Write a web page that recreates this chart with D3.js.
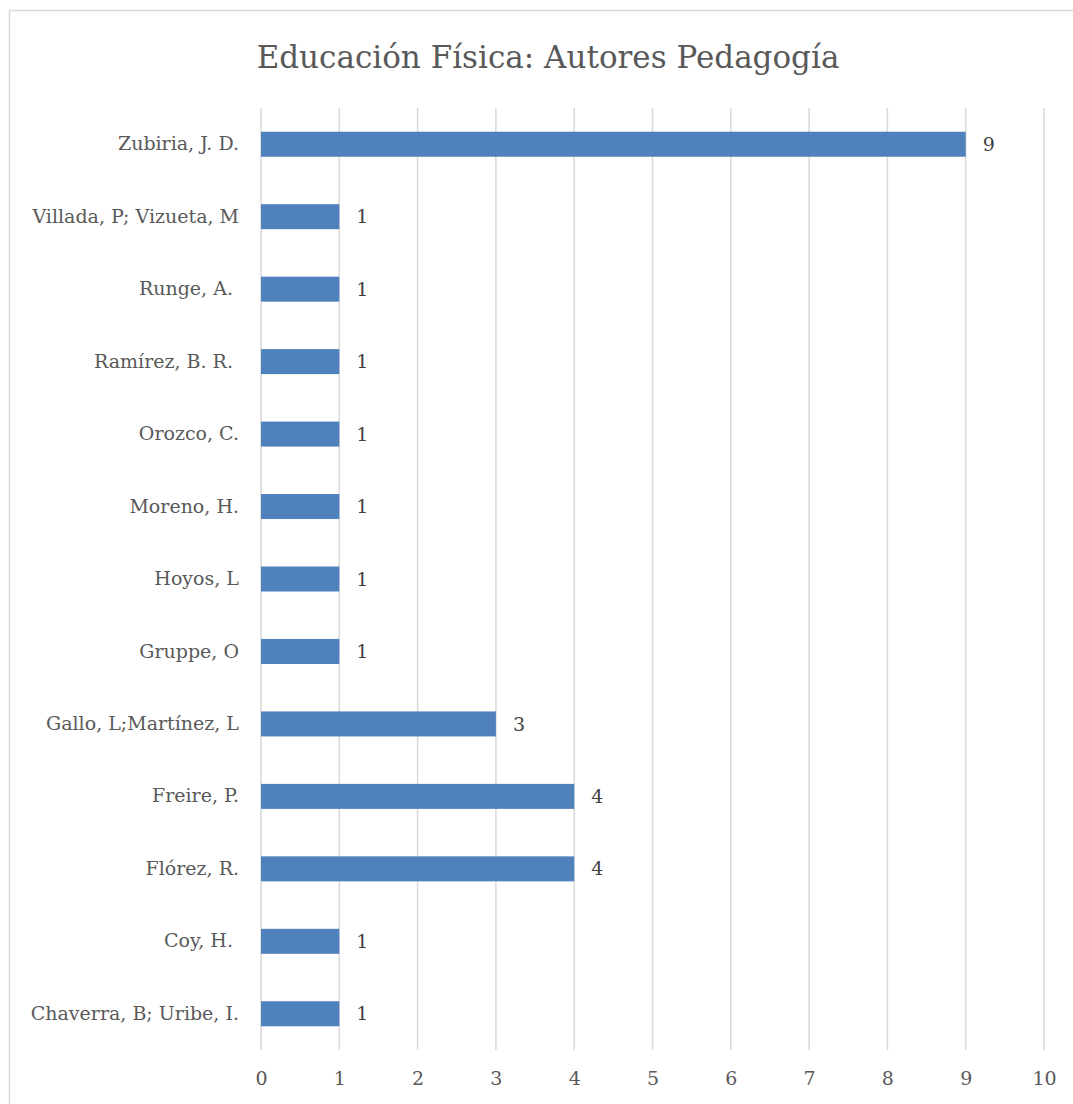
<!DOCTYPE html>
<html>
<head>
<meta charset="utf-8">
<script src="https://cdn.jsdelivr.net/npm/d3@7"></script>
<style>
  body { margin: 0; background: #fff; }
  text { font-family: "DejaVu Serif", serif; white-space: pre; }
</style>
</head>
<body>
<div id="chart"></div>
<script>
var width = 1073, height = 1104;

var authors = ['Zubiria, J. D.', 'Villada, P; Vizueta, M', 'Runge, A. ', 'Ramírez, B. R. ', 'Orozco, C.',
  'Moreno, H.', 'Hoyos, L', 'Gruppe, O', 'Gallo, L;Martínez, L', 'Freire, P.', 'Flórez, R.', 'Coy, H. ',
  'Chaverra, B; Uribe, I.'];
var counts = [9, 1, 1, 1, 1, 1, 1, 1, 3, 4, 4, 1, 1];
var xTicks = [0, 1, 2, 3, 4, 5, 6, 7, 8, 9, 10];
var title = 'Educación Física: Autores Pedagogía';

var svg = d3.select('#chart')
    .append('svg')
    .attr('width', width)
    .attr('height', height);

// chart frame (right and bottom edges are cut off in the original)
svg.append('rect')
    .attr('x', 9.5).attr('y', 10.5)
    .attr('width', 1100).attr('height', 1120)
    .attr('fill', '#fff')
    .attr('stroke', '#d9d9d9')
    .attr('stroke-width', 1.5);

var xScale = d3.scaleLinear().domain([0, 10]).range([261, 1044]);
var yScale = d3.scaleBand().domain(authors).range([108, 1050]).paddingInner(0.655).paddingOuter(0.3275);

svg.append('text')
    .attr('x', 548).attr('y', 68)
    .attr('text-anchor', 'middle')
    .attr('font-size', 31)
    .attr('fill', '#595959')
    .text(title);

// vertical gridlines
svg.selectAll('.grid')
    .data(xTicks)
    .enter()
    .append('line')
    .attr('class', 'grid')
    .attr('x1', function(d){ return xScale(d); })
    .attr('x2', function(d){ return xScale(d); })
    .attr('y1', 108).attr('y2', 1050)
    .attr('stroke', '#d9d9d9')
    .attr('stroke-width', 1.5);

var xAxis = svg.append('g')
    .attr('transform', 'translate(0,1050)')
    .call(d3.axisBottom(xScale).tickValues(xTicks).tickSize(0).tickPadding(22));
xAxis.select('.domain').remove();
xAxis.selectAll('text').attr('font-size', 19).attr('fill', '#595959')
    .style('font-family', '"DejaVu Serif", serif');

var yAxis = svg.append('g')
    .attr('transform', 'translate(239,0)')
    .call(d3.axisLeft(yScale).tickSize(0).tickPadding(0));
yAxis.select('.domain').remove();
yAxis.selectAll('text').attr('font-size', 19).attr('fill', '#595959')
    .style('font-family', '"DejaVu Serif", serif');

svg.selectAll('.bar')
    .data(counts)
    .enter()
    .append('rect')
    .attr('class', 'bar')
    .attr('x', xScale(0))
    .attr('y', function(d, i){ return yScale(authors[i]); })
    .attr('width', function(d){ return xScale(d) - xScale(0); })
    .attr('height', yScale.bandwidth())
    .attr('fill', '#4f81bd');

svg.selectAll('.val')
    .data(counts)
    .enter()
    .append('text')
    .attr('class', 'val')
    .attr('x', function(d){ return xScale(d) + 17; })
    .attr('y', function(d, i){ return yScale(authors[i]) + yScale.bandwidth() / 2; })
    .attr('dy', '0.35em')
    .attr('font-size', 19)
    .attr('fill', '#404040')
    .text(function(d){ return d; });
</script>
</body>
</html>
